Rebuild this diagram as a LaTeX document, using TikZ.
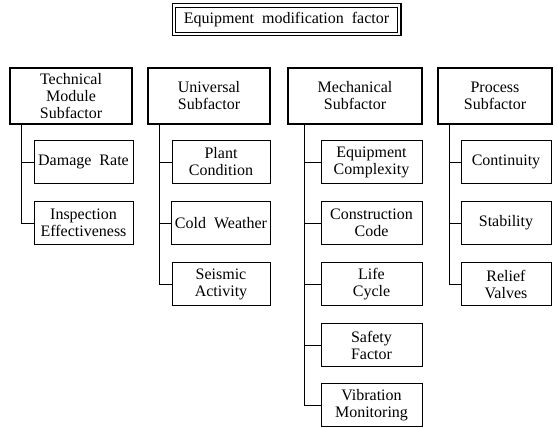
\documentclass[tikz,border=0pt]{standalone}
\usepackage{fontspec}
\setmainfont{Liberation Serif}
\usepackage{tikz}

\tikzset{
  head/.style={draw, line width=1.6pt, align=center, minimum height=56pt},
  item/.style={draw, line width=0.8pt, align=center, minimum height=43pt},
  topbox/.style={draw, line width=0.8pt, minimum width=222pt, minimum height=25pt},
  link/.style={line width=0.8pt}
}

\begin{document}
\begin{tikzpicture}[x=1pt, y=-1pt, font=\fontsize{16}{17}\selectfont]
            \useasboundingbox (0,0) rectangle (558,428);
            \node [topbox] (emf) at (286.5,19.5) {Equipment\ \ modification\ \ factor};
            \draw [line width=1.2pt] ([shift={(-3pt,3pt)}]emf.north west) rectangle ([shift={(3pt,-3pt)}]emf.south east);
            % subfactors
            \node [head, minimum width=122pt] (tech) at (71,96) {Technical\\Module\\Subfactor};
            \node [head, minimum width=122pt] (univ) at (209,96) {Universal\\Subfactor};
            \node [head, minimum width=134pt] (mech) at (355,96) {Mechanical\\Subfactor};
            \node [head, minimum width=114pt] (proc) at (495,96) {Process\\Subfactor};
            % technical module
            \node [item, minimum width=99pt] (dmg) at (83.5,162) {Damage\ \ Rate};
            \node [item, minimum width=99pt] (insp) at (83.5,223) {Inspection\\Effectiveness};
            % universal
            \node [item, minimum width=98pt] (plant) at (221,162) {Plant\\Condition};
            \node [item, minimum width=98pt] (cold) at (221,223) {Cold\ \ Weather};
            \node [item, minimum width=98pt] (seis) at (221,284) {Seismic\\Activity};
            % mechanical
            \node [item, minimum width=101pt] (cplx) at (371.5,162) {Equipment\\Complexity};
            \node [item, minimum width=101pt] (code) at (371.5,223) {Construction\\Code};
            \node [item, minimum width=101pt] (life) at (371.5,284) {Life\\Cycle};
            \node [item, minimum width=101pt] (safe) at (371.5,345) {Safety\\Factor};
            \node [item, minimum width=101pt] (vib) at (371.5,405) {Vibration\\Monitoring};
            % process
            \node [item, minimum width=90pt] (cont) at (506,162) {Continuity};
            \node [item, minimum width=90pt] (stab) at (506,223) {Stability};
            \node [item, minimum width=90pt] (valv) at (506,284) {Relief\\Valves};
            % connectors
            \draw [link] ([xshift=12pt]tech.south west) |- (dmg.west);
            \draw [link] ([xshift=12pt]tech.south west) |- (insp.west);
            \draw [link] ([xshift=12pt]univ.south west) |- (plant.west);
            \draw [link] ([xshift=12pt]univ.south west) |- (cold.west);
            \draw [link] ([xshift=12pt]univ.south west) |- (seis.west);
            \draw [link] ([xshift=17pt]mech.south west) |- (cplx.west);
            \draw [link] ([xshift=17pt]mech.south west) |- (code.west);
            \draw [link] ([xshift=17pt]mech.south west) |- (life.west);
            \draw [link] ([xshift=17pt]mech.south west) |- (safe.west);
            \draw [link] ([xshift=17pt]mech.south west) |- (vib.west);
            \draw [link] ([xshift=12pt]proc.south west) |- (cont.west);
            \draw [link] ([xshift=12pt]proc.south west) |- (stab.west);
            \draw [link] ([xshift=12pt]proc.south west) |- (valv.west);
\end{tikzpicture}
\end{document}
